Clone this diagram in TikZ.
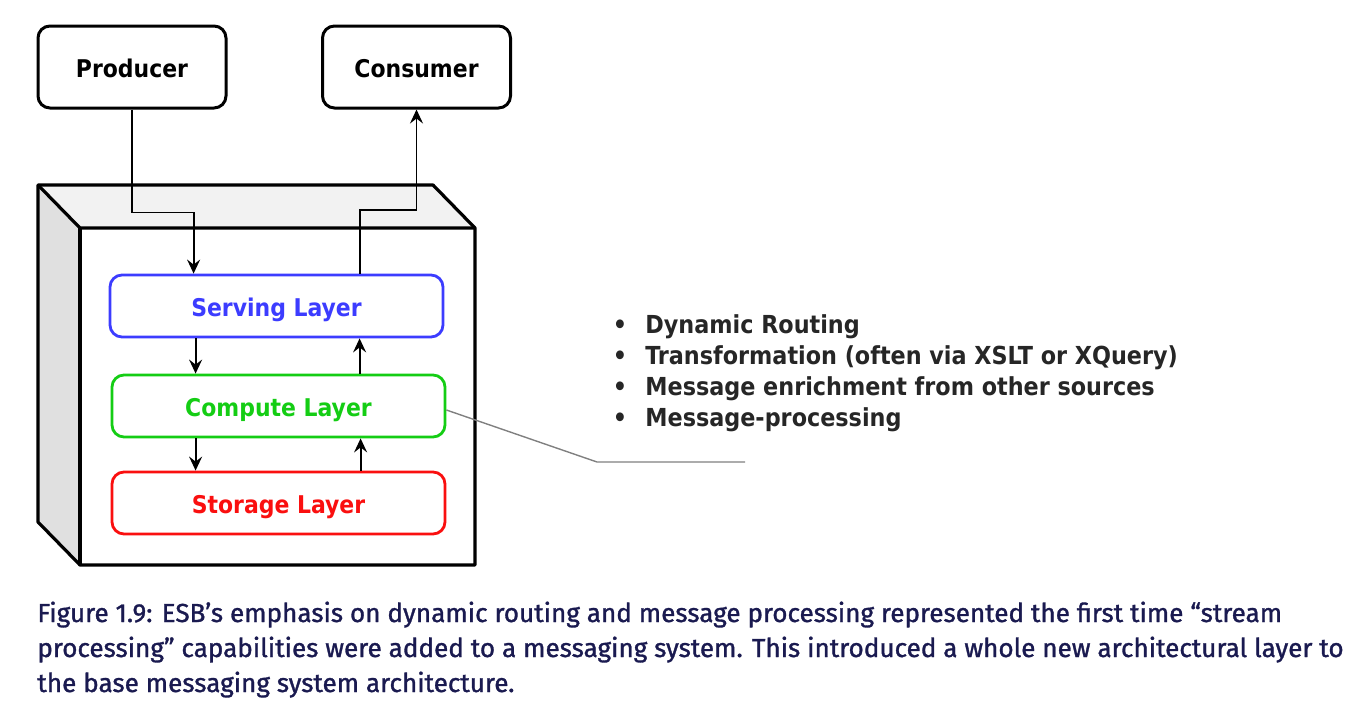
\documentclass[tikz,border=0pt]{standalone}
\usepackage{fontspec}
\setmainfont{DejaVu Sans}
\newfontfamily\dvc{DejaVu Sans Condensed}
\newfontfamily\capfont{Fira Sans}[FakeBold=1.2]
\usetikzlibrary{arrows.meta,calc}
\definecolor{servblue}{RGB}{60,60,255}
\definecolor{compgreen}{RGB}{20,205,20}
\definecolor{storred}{RGB}{250,15,15}
\definecolor{capnavy}{RGB}{26,26,80}
\definecolor{topgray}{RGB}{242,242,242}
\definecolor{sidegray}{RGB}{224,224,224}
\tikzset{
  extbox/.style={draw=black, line width=1.5pt, rounded corners=6pt, minimum width=94pt, minimum height=41pt, text height=1em, text depth=0pt, font=\dvc\bfseries\fontsize{12.2}{14}\selectfont, fill=white},
  layerbox/.style={line width=1.4pt, rounded corners=6pt, minimum width=166.5pt, minimum height=31pt, text height=1em, text depth=0pt, font=\dvc\bfseries\fontsize{12.2}{13}\selectfont, fill=white},
  arr/.style={line width=0.9pt, -{Stealth[length=7pt,width=6.5pt,inset=2.5pt]}},
  bullettext/.style={anchor=base west, inner sep=0pt, font=\dvc\bfseries\fontsize{12.4}{13}\selectfont, text=black!85},
  bulletdot/.style={anchor=base, inner sep=0pt, font=\dvc\bfseries\fontsize{12.4}{13}\selectfont, text=black!85},
  captext/.style={anchor=base west, inner sep=0pt, text=capnavy, font=\capfont\fontsize{13.05}{17.5}\selectfont},
}
\begin{document}
\begin{tikzpicture}[x=0.5pt,y=-0.5pt]
\useasboundingbox (0,0) rectangle (1366,728);
% 3D box
\fill[topgray] (38,185) -- (433,185) -- (475,228) -- (80,228) -- cycle;
\fill[sidegray] (38,185) -- (80,228) -- (80,565) -- (38,522) -- cycle;
\draw[line width=1.6pt, line join=round] (38,185) -- (433,185) -- (475,228) -- (475,565) -- (80,565) -- (38,522) -- cycle;
\draw[line width=1.6pt, line join=round] (38,185) -- (80,228) -- (475,228);
\draw[line width=1.6pt] (80,228) -- (80,565);
% external boxes
\node[extbox] (prod) at (132,67) {Producer};
\node[extbox] (cons) at (416.5,67) {Consumer};
% layers
\node[layerbox, draw=servblue, text=servblue] (serv) at (276.5,306) {Serving Layer};
\node[layerbox, draw=compgreen, text=compgreen] (comp) at (278.5,406) {Compute Layer};
\node[layerbox, draw=storred, text=storred] (stor) at (278.5,503) {Storage Layer};
% connectors
\draw[arr] (prod.south) -- ++(0,103) -| ($(serv.north west)+(85,0)$);
\draw[arr] ($(serv.north west)+(251,0)$) -- ++(0,-64) -| (cons.south);
\draw[arr] ($(serv.south west)+(87,0)$) -- ($(comp.north west)+(85,0)$);
\draw[arr] ($(comp.north west)+(249,0)$) -- ($(serv.south west)+(251,0)$);
\draw[arr] ($(comp.south west)+(85,0)$) -- ($(stor.north west)+(85,0)$);
\draw[arr] ($(stor.north west)+(250,0)$) -- ($(comp.south west)+(250,0)$);
% callout line
\coordinate (bend) at (597,462);
\coordinate (cend) at (745,462);
\draw[gray, line width=0.7pt] ($(comp.east)+(0,4)$) -- (bend) -- (cend);
% bullets
\foreach \i/\t in {0/Dynamic Routing,1/Transformation (often via XSLT or XQuery),2/Message enrichment from other sources,3/Message-processing}{
  \node[bulletdot] (b\i) at (620,{333+31*\i}) {\textbullet};
  \node[bullettext] (t\i) at (645,{333+31*\i}) {\t};
}
% caption
\node[captext] (cap1) at (37,622) {Figure 1.9: ESB’s emphasis on dynamic routing and message processing represented the first time “stream};
\node[captext] (cap2) at (37,657) {processing” capabilities were added to a messaging system. This introduced a whole new architectural layer to};
\node[captext] (cap3) at (37,692) {the base messaging system architecture.};
\end{tikzpicture}
\end{document}
